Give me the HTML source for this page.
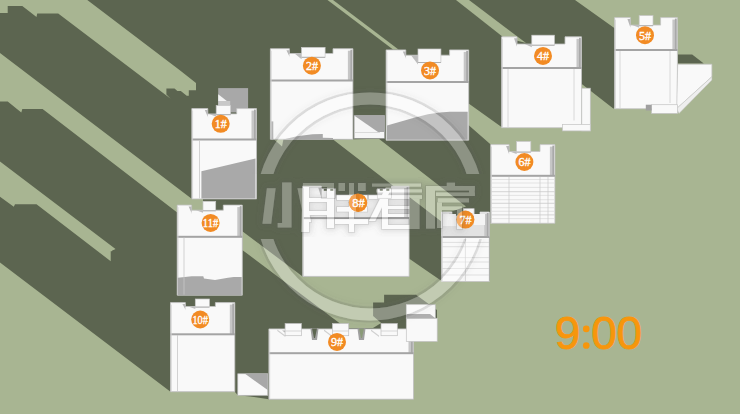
<!DOCTYPE html>
<html><head><meta charset="utf-8"><style>html,body{margin:0;padding:0;width:740px;height:414px;overflow:hidden;background:#a8b592}svg{display:block}</style></head>
<body><svg width="740" height="414" viewBox="0 0 740 414">
<rect width="740" height="414" fill="#a8b592"/>
<polygon fill="#5c6550" points="0,0 575,0 614.3,27.9 640,60 613.6,108.7 581.8,84 570,110 501.5,127 469,103.8 450,110 469,125.5 491,144.7 491,223 490,223 490,280.7 441.3,280.7 425.6,270 409,258.4 409,276.4 302.6,276.4 242.3,231.2 242.3,249.9 346,328 373,328 381.2,323.1 373.1,316 373.1,302.4 384.1,302.4 384.1,294.7 416,294.7 437,310 437,341 413.5,341 413.5,399.2 268.9,399.2 250,396.5 237.8,395.3 234.8,391.7 170.5,391.7 0,262.6"/>
<polygon fill="#a8b592" points="0,0 87.3,0 179.5,70 196,83.1 196,90.3 188.8,90.3 188.8,95.8 186.7,95.8 180.8,91.1 177.4,91.1 174.5,88.6 166.4,88.6 166.4,94.5 170.7,98.8 58.2,13.5 37.2,13.5 36.5,16.9 22.3,6.1 7.7,6.1 7.7,13.1 0,13.1"/>
<polygon fill="#a8b592" points="0,53.1 192,199 203,199 203,212.5 177.2,212.5 42.6,108.9 22.3,108.9 21.3,112.4 7.7,101.5 0,101.5"/>
<polygon fill="#a8b592" points="0,161.6 115.5,249.1 113.6,249.9 112.6,249.9 112.6,250.6 111.7,251.3 110.7,251.3 110.7,261.2 36.5,204.3 15,204.3 13.8,206.8 0,196.8"/>
<polygon fill="#a8b592" points="327.5,0 333,0 398.5,49.5 393,49.5"/>
<polygon fill="#a8b592" points="456,0 469,0 526,43 503,37"/>
<polygon fill="#a8b592" points="333.4,139.7 378.8,138.7 466,206.5 442,215 442,222 409,196.7 393.7,186.3"/>
<polygon fill="#5c6550" points="677.7,54.5 692.2,54.5 703.8,63.6 677.7,63.6"/>
<polygon fill="#a8b592" points="273.5,139 283.5,139 282,146.5"/>
<rect x="218.2" y="88.1" width="29.9" height="24.3" fill="#a8a8a8"/>
<polygon points="218.2,94.2 226.8,101 218.2,101" fill="#f4f4f4"/>
<rect x="218.2" y="101" width="12" height="6" fill="#c8c8c8"/>
<polygon points="191.8,108.6 207.8,108.6 207.8,113.9 236.7,113.9 236.7,108.6 256.5,108.6 256.5,198.9 191.8,198.9" fill="#f9f9f9" stroke="#c4c4c4" stroke-width="0.8"/>
<polygon points="204.8,110.1 207.8,110.1 207.8,116.4 208.3,117.9" fill="#b8b8b8"/>
<polygon points="209.2,113.9 216.2,113.9 216.2,116.7" fill="#bdbdbd"/>
<rect x="216.2" y="105.6" width="14.400000000000006" height="9.100000000000009" fill="#f9f9f9" stroke="#c8c8c8" stroke-width="0.7"/>
<line x1="216.2" y1="114.7" x2="230.6" y2="114.7" stroke="#b0b0b0" stroke-width="1"/>
<rect x="251.5" y="110.6" width="4" height="28.900000000000006" fill="#c6c6c6"/>
<rect x="254.0" y="109.6" width="1.8" height="29.900000000000006" fill="#a9a9a9"/>
<rect x="191.8" y="138.5" width="64.69999999999999" height="2" fill="#a4a4a4"/>
<line x1="192.60000000000002" y1="110.6" x2="192.60000000000002" y2="198.9" stroke="#d0d0d0" stroke-width="0.8"/>
<polygon points="270.4,48.7 289.4,48.7 289.4,53.5 333,53.5 333,48.7 352.9,48.7 352.9,139.3 270.4,139.3" fill="#f9f9f9" stroke="#c4c4c4" stroke-width="0.8"/>
<polygon points="286.4,50.2 289.4,50.2 289.4,56 289.9,57.5" fill="#b8b8b8"/>
<polygon points="294.6,53.5 301.6,53.5 301.6,59.3" fill="#bdbdbd"/>
<rect x="301.6" y="47.4" width="23.5" height="9.899999999999999" fill="#f9f9f9" stroke="#c8c8c8" stroke-width="0.7"/>
<line x1="301.6" y1="57.3" x2="325.1" y2="57.3" stroke="#b0b0b0" stroke-width="1"/>
<rect x="347.9" y="50.7" width="4" height="29.799999999999997" fill="#c6c6c6"/>
<rect x="350.4" y="49.7" width="1.8" height="30.799999999999997" fill="#a9a9a9"/>
<rect x="270.4" y="79.5" width="82.5" height="2" fill="#a4a4a4"/>
<line x1="271.2" y1="50.7" x2="271.2" y2="139.3" stroke="#d0d0d0" stroke-width="0.8"/>
<polygon points="386.1,49.9 405.8,49.9 405.8,55.2 449.6,55.2 449.6,49.9 468.7,49.9 468.7,140.2 386.1,140.2" fill="#f9f9f9" stroke="#c4c4c4" stroke-width="0.8"/>
<polygon points="402.8,51.4 405.8,51.4 405.8,57.7 406.3,59.2" fill="#b8b8b8"/>
<polygon points="411,55.2 418,55.2 418,64.5" fill="#bdbdbd"/>
<rect x="418" y="49" width="22.899999999999977" height="13.5" fill="#f9f9f9" stroke="#c8c8c8" stroke-width="0.7"/>
<line x1="418" y1="62.5" x2="440.9" y2="62.5" stroke="#b0b0b0" stroke-width="1"/>
<rect x="463.7" y="51.9" width="4" height="30.1" fill="#c6c6c6"/>
<rect x="466.2" y="50.9" width="1.8" height="31.1" fill="#a9a9a9"/>
<rect x="386.1" y="81" width="82.59999999999997" height="2" fill="#a4a4a4"/>
<line x1="386.90000000000003" y1="51.9" x2="386.90000000000003" y2="140.2" stroke="#d0d0d0" stroke-width="0.8"/>
<polygon points="501.6,36.8 517,36.8 517,44 565,44 565,36.8 581.5,36.8 581.5,127.7 501.6,127.7" fill="#f9f9f9" stroke="#c4c4c4" stroke-width="0.8"/>
<polygon points="514,38.3 517,38.3 517,46.5 517.5,48" fill="#b8b8b8"/>
<polygon points="524.8,44 531.8,44 531.8,47.2" fill="#bdbdbd"/>
<rect x="531.8" y="35.2" width="22.600000000000023" height="10.0" fill="#f9f9f9" stroke="#c8c8c8" stroke-width="0.7"/>
<line x1="531.8" y1="45.2" x2="554.4" y2="45.2" stroke="#b0b0b0" stroke-width="1"/>
<rect x="576.5" y="38.8" width="4" height="29.200000000000003" fill="#c6c6c6"/>
<rect x="579.0" y="37.8" width="1.8" height="30.200000000000003" fill="#a9a9a9"/>
<rect x="501.6" y="67" width="79.89999999999998" height="2" fill="#a4a4a4"/>
<line x1="502.40000000000003" y1="38.8" x2="502.40000000000003" y2="127.7" stroke="#d0d0d0" stroke-width="0.8"/>
<polygon points="614.6,17.6 630.4,17.6 630.4,25.1 660.6,25.1 660.6,17.6 677.4,17.6 677.4,108.7 614.6,108.7" fill="#f9f9f9" stroke="#c4c4c4" stroke-width="0.8"/>
<polygon points="627.4,19.1 630.4,19.1 630.4,27.6 630.9,29.1" fill="#b8b8b8"/>
<polygon points="632.2,25.1 639.2,25.1 639.2,27.7" fill="#bdbdbd"/>
<rect x="639.2" y="15.6" width="13.799999999999955" height="10.100000000000003" fill="#f9f9f9" stroke="#c8c8c8" stroke-width="0.7"/>
<line x1="639.2" y1="25.700000000000003" x2="653" y2="25.700000000000003" stroke="#b0b0b0" stroke-width="1"/>
<rect x="672.4" y="19.6" width="4" height="30.4" fill="#c6c6c6"/>
<rect x="674.9" y="18.6" width="1.8" height="31.4" fill="#a9a9a9"/>
<rect x="614.6" y="49" width="62.799999999999955" height="2" fill="#a4a4a4"/>
<line x1="615.4" y1="19.6" x2="615.4" y2="108.7" stroke="#d0d0d0" stroke-width="0.8"/>
<polygon points="490.7,144.6 509.1,144.6 509.1,151.5 540,151.5 540,144.6 554.9,144.6 554.9,223.3 490.7,223.3" fill="#f9f9f9" stroke="#c4c4c4" stroke-width="0.8"/>
<polygon points="506.1,146.1 509.1,146.1 509.1,154 509.6,155.5" fill="#b8b8b8"/>
<polygon points="509.6,151.5 516.6,151.5 516.6,154.1" fill="#bdbdbd"/>
<rect x="516.6" y="141.4" width="14.199999999999932" height="10.699999999999989" fill="#f9f9f9" stroke="#c8c8c8" stroke-width="0.7"/>
<line x1="516.6" y1="152.1" x2="530.8" y2="152.1" stroke="#b0b0b0" stroke-width="1"/>
<rect x="549.9" y="146.6" width="4" height="29.200000000000017" fill="#c6c6c6"/>
<rect x="552.4" y="145.6" width="1.8" height="30.200000000000017" fill="#a9a9a9"/>
<rect x="490.7" y="174.8" width="64.19999999999999" height="2" fill="#a4a4a4"/>
<line x1="491.5" y1="146.6" x2="491.5" y2="223.3" stroke="#d0d0d0" stroke-width="0.8"/>
<polygon points="441.5,212 452,212 452,216 480,216 480,212 489.3,212 489.3,281.5 441.5,281.5" fill="#f9f9f9" stroke="#c4c4c4" stroke-width="0.8"/>
<polygon points="441.5,212 452,212 452,216 480,216 480,212 489.3,212 489.3,237 441.5,237" fill="#e2e2e2"/>
<polygon points="449,213.5 452,213.5 452,218.5 452.5,220" fill="#b8b8b8"/>
<polygon points="456.3,216 463.3,216 463.3,218.6" fill="#bdbdbd"/>
<rect x="463.3" y="208.7" width="10.800000000000011" height="7.900000000000006" fill="#f9f9f9" stroke="#c8c8c8" stroke-width="0.7"/>
<line x1="463.3" y1="216.6" x2="474.1" y2="216.6" stroke="#b0b0b0" stroke-width="1"/>
<rect x="484.3" y="214" width="4" height="23" fill="#c6c6c6"/>
<rect x="486.8" y="213" width="1.8" height="24" fill="#a9a9a9"/>
<rect x="441.5" y="236" width="47.80000000000001" height="2" fill="#a4a4a4"/>
<line x1="442.3" y1="214" x2="442.3" y2="281.5" stroke="#d0d0d0" stroke-width="0.8"/>
<polygon points="302.7,186.2 321.3,186.2 321.3,195 391.5,195 391.5,186.2 409.1,186.2 409.1,276.4 302.7,276.4" fill="#f9f9f9" stroke="#c4c4c4" stroke-width="0.8"/>
<polygon points="318.3,187.7 321.3,187.7 321.3,197.5 321.8,199" fill="#b8b8b8"/>
<rect x="404.1" y="188.2" width="4" height="29.900000000000006" fill="#c6c6c6"/>
<rect x="406.6" y="187.2" width="1.8" height="30.900000000000006" fill="#a9a9a9"/>
<rect x="302.7" y="217.1" width="106.40000000000003" height="2" fill="#a4a4a4"/>
<line x1="303.5" y1="188.2" x2="303.5" y2="276.4" stroke="#d0d0d0" stroke-width="0.8"/>
<polygon points="268.9,328.9 285,328.9 285,328.9 397.3,328.9 397.3,328.9 413.5,328.9 413.5,399.2 268.9,399.2" fill="#f9f9f9" stroke="#c4c4c4" stroke-width="0.8"/>
<polygon points="282,330.4 285,330.4 285,331.4 285.5,332.9" fill="#b8b8b8"/>
<rect x="408.5" y="330.9" width="4" height="22.30000000000001" fill="#c6c6c6"/>
<rect x="411.0" y="329.9" width="1.8" height="23.30000000000001" fill="#a9a9a9"/>
<rect x="268.9" y="352.2" width="144.60000000000002" height="2" fill="#a4a4a4"/>
<line x1="269.7" y1="330.9" x2="269.7" y2="399.2" stroke="#d0d0d0" stroke-width="0.8"/>
<polygon points="170.5,302.6 185.4,302.6 185.4,306.5 215.4,306.5 215.4,302.6 234.8,302.6 234.8,391.7 170.5,391.7" fill="#f9f9f9" stroke="#c4c4c4" stroke-width="0.8"/>
<polygon points="182.4,304.1 185.4,304.1 185.4,309 185.9,310.5" fill="#b8b8b8"/>
<polygon points="188.3,306.5 195.3,306.5 195.3,309.1" fill="#bdbdbd"/>
<rect x="195.3" y="299" width="14.099999999999994" height="8.100000000000023" fill="#f9f9f9" stroke="#c8c8c8" stroke-width="0.7"/>
<line x1="195.3" y1="307.1" x2="209.4" y2="307.1" stroke="#b0b0b0" stroke-width="1"/>
<rect x="229.8" y="304.6" width="4" height="29.69999999999999" fill="#c6c6c6"/>
<rect x="232.3" y="303.6" width="1.8" height="30.69999999999999" fill="#a9a9a9"/>
<rect x="170.5" y="333.3" width="64.30000000000001" height="2" fill="#a4a4a4"/>
<line x1="171.3" y1="304.6" x2="171.3" y2="391.7" stroke="#d0d0d0" stroke-width="0.8"/>
<polygon points="177.2,205.1 191.6,205.1 191.6,210.2 223.3,210.2 223.3,205.1 242.3,205.1 242.3,295.2 177.2,295.2" fill="#f9f9f9" stroke="#c4c4c4" stroke-width="0.8"/>
<polygon points="188.6,206.6 191.6,206.6 191.6,212.7 192.1,214.2" fill="#b8b8b8"/>
<polygon points="196,210.2 203,210.2 203,212.8" fill="#bdbdbd"/>
<rect x="203" y="201.3" width="12.699999999999989" height="9.499999999999972" fill="#f9f9f9" stroke="#c8c8c8" stroke-width="0.7"/>
<line x1="203" y1="210.79999999999998" x2="215.7" y2="210.79999999999998" stroke="#b0b0b0" stroke-width="1"/>
<rect x="237.3" y="207.1" width="4" height="29.700000000000017" fill="#c6c6c6"/>
<rect x="239.8" y="206.1" width="1.8" height="30.700000000000017" fill="#a9a9a9"/>
<rect x="177.2" y="235.8" width="65.10000000000002" height="2" fill="#a4a4a4"/>
<line x1="178.0" y1="207.1" x2="178.0" y2="295.2" stroke="#d0d0d0" stroke-width="0.8"/>
<polygon points="201.4,171.2 255.5,158.6 255.5,198.4 201.4,198.4" fill="#a9a9a9"/>
<line x1="199.5" y1="140.5" x2="199.5" y2="198.4" stroke="#c8c8c8" stroke-width="0.8"/>
<polygon points="283,139.4 297,136.2 312.5,134.3 322.8,134 322.8,137.8 333,138.1 333,139.4" fill="#a9a9a9"/>
<rect x="271.4" y="121.4" width="1.9" height="18" fill="#b5b5b5"/>
<polygon points="387,125.6 415,117.5 428,114.3 440,112.5 449.6,111.8 467.7,111.8 467.7,139.7 387,139.7" fill="#a9a9a9"/>
<polygon points="177.8,277.7 191.7,276.2 203.3,276.2 204,278.4 215,279.9 228,277.7 233.8,277 241.7,277 241.7,294.9 177.8,294.9" fill="#a9a9a9"/>
<line x1="184" y1="237.5" x2="184" y2="294.7" stroke="#c8c8c8" stroke-width="0.8"/>
<line x1="177.5" y1="335" x2="177.5" y2="391" stroke="#c8c8c8" stroke-width="0.8"/>
<rect x="354.1" y="115.4" width="30.5" height="22.9" fill="#f6f6f6" stroke="#9a9a9a" stroke-width="0.6"/>
<polygon points="354.1,115.4 384.6,115.4 384.6,132 378,132" fill="#a8a8a8"/>
<line x1="354.1" y1="132.5" x2="380" y2="132.5" stroke="#c8c8c8" stroke-width="0.6"/>
<rect x="581.8" y="88.2" width="8.5" height="42.7" fill="#f9f9f9" stroke="#c4c4c4" stroke-width="0.7"/>
<rect x="562.4" y="124.4" width="27.9" height="6.5" fill="#f9f9f9" stroke="#c4c4c4" stroke-width="0.7"/>
<line x1="574" y1="69" x2="574" y2="120.5" stroke="#d0d0d0" stroke-width="0.8"/>
<line x1="508" y1="69" x2="508" y2="127" stroke="#d0d0d0" stroke-width="0.8"/>
<polygon points="677.7,64.2 711.9,64.2 711.9,76.7 676.7,108.6" fill="#f9f9f9" stroke="#c4c4c4" stroke-width="0.7"/>
<polygon points="711.9,76.7 711.9,80 679,113.4 676.7,108.6" fill="#eeeeee" stroke="#c4c4c4" stroke-width="0.5"/>
<rect x="651.6" y="104.7" width="26" height="8.7" fill="#f9f9f9" stroke="#c4c4c4" stroke-width="0.7"/>
<rect x="645.8" y="104.7" width="5.8" height="5.8" fill="#a0a0a0"/>
<line x1="670" y1="51" x2="670" y2="103" stroke="#d0d0d0" stroke-width="0.8"/>
<line x1="620" y1="51" x2="620" y2="108" stroke="#d0d0d0" stroke-width="0.8"/>
<rect x="443" y="214" width="13" height="12" fill="#f4f4f4"/>
<rect x="474" y="214" width="11" height="11" fill="#f4f4f4"/>
<line x1="491.5" y1="179.5" x2="554.5" y2="179.5" stroke="#dadada" stroke-width="0.7"/>
<line x1="491.5" y1="183" x2="554.5" y2="183" stroke="#dadada" stroke-width="0.7"/>
<line x1="491.5" y1="187.4" x2="554.5" y2="187.4" stroke="#dadada" stroke-width="0.7"/>
<line x1="491.5" y1="191.7" x2="554.5" y2="191.7" stroke="#c4c4c4" stroke-width="0.7"/>
<line x1="491.5" y1="195.4" x2="554.5" y2="195.4" stroke="#dadada" stroke-width="0.7"/>
<line x1="491.5" y1="199.7" x2="554.5" y2="199.7" stroke="#dadada" stroke-width="0.7"/>
<line x1="491.5" y1="203.3" x2="554.5" y2="203.3" stroke="#c4c4c4" stroke-width="0.7"/>
<line x1="491.5" y1="207.7" x2="554.5" y2="207.7" stroke="#dadada" stroke-width="0.7"/>
<line x1="491.5" y1="211.3" x2="554.5" y2="211.3" stroke="#dadada" stroke-width="0.7"/>
<line x1="491.5" y1="214.9" x2="554.5" y2="214.9" stroke="#c4c4c4" stroke-width="0.7"/>
<line x1="491.5" y1="218.6" x2="554.5" y2="218.6" stroke="#dadada" stroke-width="0.7"/>
<line x1="509" y1="177" x2="509" y2="223" stroke="#c8c8c8" stroke-width="0.7"/>
<line x1="540" y1="177" x2="540" y2="223" stroke="#c8c8c8" stroke-width="0.7"/>
<line x1="548" y1="177" x2="548" y2="223" stroke="#c8c8c8" stroke-width="0.7"/>
<line x1="442" y1="242.4" x2="489" y2="242.4" stroke="#d4d4d4" stroke-width="0.7"/>
<line x1="442" y1="246.7" x2="489" y2="246.7" stroke="#d4d4d4" stroke-width="0.7"/>
<line x1="442" y1="257.6" x2="489" y2="257.6" stroke="#d4d4d4" stroke-width="0.7"/>
<line x1="442" y1="262" x2="489" y2="262" stroke="#d4d4d4" stroke-width="0.7"/>
<line x1="442" y1="268.5" x2="489" y2="268.5" stroke="#d4d4d4" stroke-width="0.7"/>
<line x1="442" y1="275" x2="489" y2="275" stroke="#d4d4d4" stroke-width="0.7"/>
<line x1="465.4" y1="238" x2="465.4" y2="281" stroke="#c8c8c8" stroke-width="0.7"/>
<rect x="285.1" y="323.5" width="16.3" height="12.2" fill="#f9f9f9" stroke="#c0c0c0" stroke-width="0.7"/>
<line x1="285.1" y1="331" x2="301.40000000000003" y2="331" stroke="#c8c8c8" stroke-width="0.7"/>
<rect x="332.4" y="323.5" width="16.3" height="12.2" fill="#f9f9f9" stroke="#c0c0c0" stroke-width="0.7"/>
<line x1="332.4" y1="331" x2="348.7" y2="331" stroke="#c8c8c8" stroke-width="0.7"/>
<rect x="381" y="323.5" width="16.3" height="12.2" fill="#f9f9f9" stroke="#c0c0c0" stroke-width="0.7"/>
<line x1="381" y1="331" x2="397.3" y2="331" stroke="#c8c8c8" stroke-width="0.7"/>
<polygon points="310.5,328.4 318.5,328.4 317.0,340 312.0,340" fill="#a0a0a0"/>
<polygon points="312.0,328.4 317.0,328.4 315.0,338 314.0,338" fill="#5c6550"/>
<polygon points="357.5,328.4 365.5,328.4 364.0,340 359.0,340" fill="#a0a0a0"/>
<polygon points="359.0,328.4 364.0,328.4 362.0,338 361.0,338" fill="#8a9a78"/>
<polygon points="277.3,329.5 285.3,335.5 285.3,337 277.3,331" fill="#d0d0d0"/>
<polygon points="324,329.5 332,335.5 332,337 324,331" fill="#d0d0d0"/>
<polygon points="371,329.5 379,335.5 379,337 371,331" fill="#d0d0d0"/>
<rect x="321.3" y="188.8" width="14.2" height="9.5" fill="#f9f9f9" stroke="#c0c0c0" stroke-width="0.7"/>
<rect x="323.8" y="188.8" width="3" height="2" fill="#5c6550"/><rect x="330.3" y="188.8" width="3" height="2" fill="#5c6550"/>
<rect x="377.3" y="188.8" width="14.2" height="9.5" fill="#f9f9f9" stroke="#c0c0c0" stroke-width="0.7"/>
<rect x="379.8" y="188.8" width="3" height="2" fill="#5c6550"/><rect x="386.3" y="188.8" width="3" height="2" fill="#5c6550"/>
<rect x="237.8" y="373.8" width="29.9" height="21.5" fill="#f9f9f9" stroke="#c4c4c4" stroke-width="0.7"/>
<polygon points="245,373.8 267.7,373.8 267.7,390" fill="#a8a8a8"/>
<rect x="406.3" y="304.7" width="29" height="13.6" fill="#f9f9f9" stroke="#c4c4c4" stroke-width="0.7"/>
<rect x="406.3" y="318.3" width="30.9" height="23.1" fill="#f9f9f9" stroke="#c4c4c4" stroke-width="0.7"/>
<polygon points="406.3,314 430,314 435.3,318.3 406.3,318.3" fill="#b0b0b0"/>
<circle cx="220.7" cy="123.8" r="9" fill="#f28b24"/>
<text x="214.7" y="128.2" font-family="Liberation Serif" font-size="12.4" fill="#fff" stroke="#fff" stroke-width="0.35" textLength="12" lengthAdjust="spacingAndGlyphs">1#</text>
<circle cx="311.9" cy="65.7" r="9" fill="#f28b24"/>
<text x="305.9" y="70.10000000000001" font-family="Liberation Serif" font-size="12.4" fill="#fff" stroke="#fff" stroke-width="0.35" textLength="12" lengthAdjust="spacingAndGlyphs">2#</text>
<circle cx="430" cy="70.4" r="9" fill="#f28b24"/>
<text x="424.0" y="74.80000000000001" font-family="Liberation Serif" font-size="12.4" fill="#fff" stroke="#fff" stroke-width="0.35" textLength="12" lengthAdjust="spacingAndGlyphs">3#</text>
<circle cx="543" cy="55.9" r="9" fill="#f28b24"/>
<text x="537.0" y="60.3" font-family="Liberation Serif" font-size="12.4" fill="#fff" stroke="#fff" stroke-width="0.35" textLength="12" lengthAdjust="spacingAndGlyphs">4#</text>
<circle cx="645" cy="35.2" r="9" fill="#f28b24"/>
<text x="639.0" y="39.6" font-family="Liberation Serif" font-size="12.4" fill="#fff" stroke="#fff" stroke-width="0.35" textLength="12" lengthAdjust="spacingAndGlyphs">5#</text>
<circle cx="524.4" cy="162" r="9" fill="#f28b24"/>
<text x="518.4" y="166.4" font-family="Liberation Serif" font-size="12.4" fill="#fff" stroke="#fff" stroke-width="0.35" textLength="12" lengthAdjust="spacingAndGlyphs">6#</text>
<circle cx="465.4" cy="219.6" r="9" fill="#f28b24"/>
<text x="459.4" y="224.0" font-family="Liberation Serif" font-size="12.4" fill="#fff" stroke="#fff" stroke-width="0.35" textLength="12" lengthAdjust="spacingAndGlyphs">7#</text>
<circle cx="357.8" cy="202.5" r="9" fill="#f28b24"/>
<text x="351.8" y="206.9" font-family="Liberation Serif" font-size="12.4" fill="#fff" stroke="#fff" stroke-width="0.35" textLength="12" lengthAdjust="spacingAndGlyphs">8#</text>
<circle cx="337" cy="341.9" r="9" fill="#f28b24"/>
<text x="331.0" y="346.29999999999995" font-family="Liberation Serif" font-size="12.4" fill="#fff" stroke="#fff" stroke-width="0.35" textLength="12" lengthAdjust="spacingAndGlyphs">9#</text>
<circle cx="200.2" cy="319.5" r="9" fill="#f28b24"/>
<text x="192.45" y="323.9" font-family="Liberation Serif" font-size="12.4" fill="#fff" stroke="#fff" stroke-width="0.35" textLength="15.5" lengthAdjust="spacingAndGlyphs">10#</text>
<circle cx="210.6" cy="222.9" r="9" fill="#f28b24"/>
<text x="202.85" y="227.3" font-family="Liberation Serif" font-size="12.4" fill="#fff" stroke="#fff" stroke-width="0.35" textLength="15.5" lengthAdjust="spacingAndGlyphs">11#</text>
<defs>
<filter id="wm" x="-10%" y="-10%" width="120%" height="120%">
  <feMorphology in="SourceAlpha" operator="dilate" radius="1.2" result="d"/>
  <feGaussianBlur in="d" stdDeviation="0.6" result="b"/>
  <feComposite in="b" in2="SourceAlpha" operator="out" result="o"/>
  <feColorMatrix in="o" type="matrix" values="0 0 0 0 0.1  0 0 0 0 0.1  0 0 0 0 0.1  0 0 0 0.12 0" result="sh"/>
  <feMorphology in="SourceAlpha" operator="dilate" radius="2" result="d2"/>
  <feGaussianBlur in="d2" stdDeviation="3" result="b2"/>
  <feComposite in="b2" in2="SourceAlpha" operator="out" result="o2"/>
  <feColorMatrix in="o2" type="matrix" values="0 0 0 0 0.1  0 0 0 0 0.1  0 0 0 0 0.1  0 0 0 0.2 0" result="sh2"/>
  <feColorMatrix in="SourceGraphic" type="matrix" values="1 0 0 0 0  0 1 0 0 0  0 0 1 0 0  0 0 0 0.3 0" result="fg"/>
  <feMerge><feMergeNode in="sh2"/><feMergeNode in="sh"/><feMergeNode in="fg"/></feMerge>
</filter>
<filter id="wmr" x="-10%" y="-10%" width="120%" height="120%">
  <feMorphology in="SourceAlpha" operator="dilate" radius="1.8" result="d"/>
  <feGaussianBlur in="d" stdDeviation="0.5" result="b"/>
  <feComposite in="b" in2="SourceAlpha" operator="out" result="o"/>
  <feColorMatrix in="o" type="matrix" values="0 0 0 0 0.1  0 0 0 0 0.1  0 0 0 0 0.1  0 0 0 0.14 0" result="sh"/>
  <feGaussianBlur in="SourceAlpha" stdDeviation="4" result="b2"/>
  <feComposite in="b2" in2="SourceAlpha" operator="out" result="o2"/>
  <feColorMatrix in="o2" type="matrix" values="0 0 0 0 0.1  0 0 0 0 0.1  0 0 0 0 0.1  0 0 0 0.12 0" result="sh2"/>
  <feColorMatrix in="SourceGraphic" type="matrix" values="1 0 0 0 0  0 1 0 0 0  0 0 1 0 0  0 0 0 0.3 0" result="fg"/>
  <feMerge><feMergeNode in="sh2"/><feMergeNode in="sh"/><feMergeNode in="fg"/></feMerge>
</filter>
<clipPath id="ringclip"><path d="M0,0H740V174H0Z M0,239H740V414H0Z M300,174H440V239H300Z"/></clipPath>
</defs>
<g clip-path="url(#ringclip)"><g filter="url(#wmr)"><circle cx="370" cy="206.5" r="108" fill="none" stroke="#fff" stroke-width="12"/></g></g>
<g fill="#fff" filter="url(#wm)"><polygon points="266.9,188.3 275.6,188.3 271.2,223.8 262.5,223.8"/><polygon points="282.1,182.5 291.5,182.5 291.5,227.4 277.7,227.4 277.7,223.1 282.1,223.1"/><polygon points="297.5,188.3 304,188.3 311,222 304.5,222"/><polygon points="303,183 309,183 309,232 301,232"/><rect x="309" y="183" width="25" height="4"/><rect x="327" y="183" width="7" height="45"/><rect x="309" y="198" width="18" height="4"/><rect x="309" y="211" width="18" height="4"/><rect x="338.6" y="183" width="6.4" height="8"/><rect x="358" y="183" width="7.7" height="8"/><rect x="337" y="195" width="30" height="5"/><rect x="337" y="207" width="30" height="4.5"/><rect x="335" y="219" width="33" height="5"/><rect x="349" y="183" width="5" height="49"/><rect x="372" y="183.6" width="49" height="3"/><rect x="376" y="189.4" width="46" height="3"/><rect x="369" y="195.2" width="53" height="3.7"/><polygon points="386,187 392,187 375,221 369,221"/><rect x="382" y="199" width="6" height="30"/><rect x="409.5" y="199" width="10" height="30"/><rect x="388" y="206" width="22" height="3"/><rect x="388" y="214" width="22" height="3"/><rect x="388" y="225" width="22" height="4"/><rect x="446.8" y="182.7" width="8.2" height="3.3"/><rect x="426" y="186" width="48.7" height="4.5"/><rect x="469" y="186" width="5.7" height="10"/><rect x="436" y="192.5" width="38.7" height="3.5"/><rect x="426" y="186" width="9" height="42.6"/><rect x="437.8" y="198.3" width="31.2" height="4.1"/><rect x="437" y="202.4" width="5" height="25.6"/><rect x="442" y="206.5" width="20" height="3.5"/><rect x="457" y="210" width="5" height="19"/></g>
<clipPath id="c8"><circle cx="358.2" cy="202.8" r="9.1"/></clipPath>
<circle cx="358.2" cy="202.8" r="9.1" fill="#f28b24"/>
<rect x="349" y="193" width="7" height="20" fill="#fff" opacity="0.22" clip-path="url(#c8)"/>
<rect x="356" y="193" width="3.5" height="20" fill="#000" opacity="0.06" clip-path="url(#c8)"/>
<text x="352.2" y="207.20000000000002" font-family="Liberation Serif" font-size="12.4" fill="#fff" stroke="#fff" stroke-width="0.35" textLength="12.5" lengthAdjust="spacingAndGlyphs">8#</text>
<text x="567.65" y="348.8" text-anchor="middle" font-family="Liberation Sans" font-size="46" fill="#f7960c" stroke="#f7960c" stroke-width="0.8">9</text>
<text x="604.1" y="348.8" text-anchor="middle" font-family="Liberation Sans" font-size="46" fill="#f7960c" stroke="#f7960c" stroke-width="0.8">0</text>
<text x="629.35" y="348.8" text-anchor="middle" font-family="Liberation Sans" font-size="46" fill="#f7960c" stroke="#f7960c" stroke-width="0.8">0</text>
<circle cx="586.25" cy="328.9" r="3.3" fill="#f7960c"/><circle cx="586.25" cy="345.5" r="3.35" fill="#f7960c"/>
</svg></body></html>
